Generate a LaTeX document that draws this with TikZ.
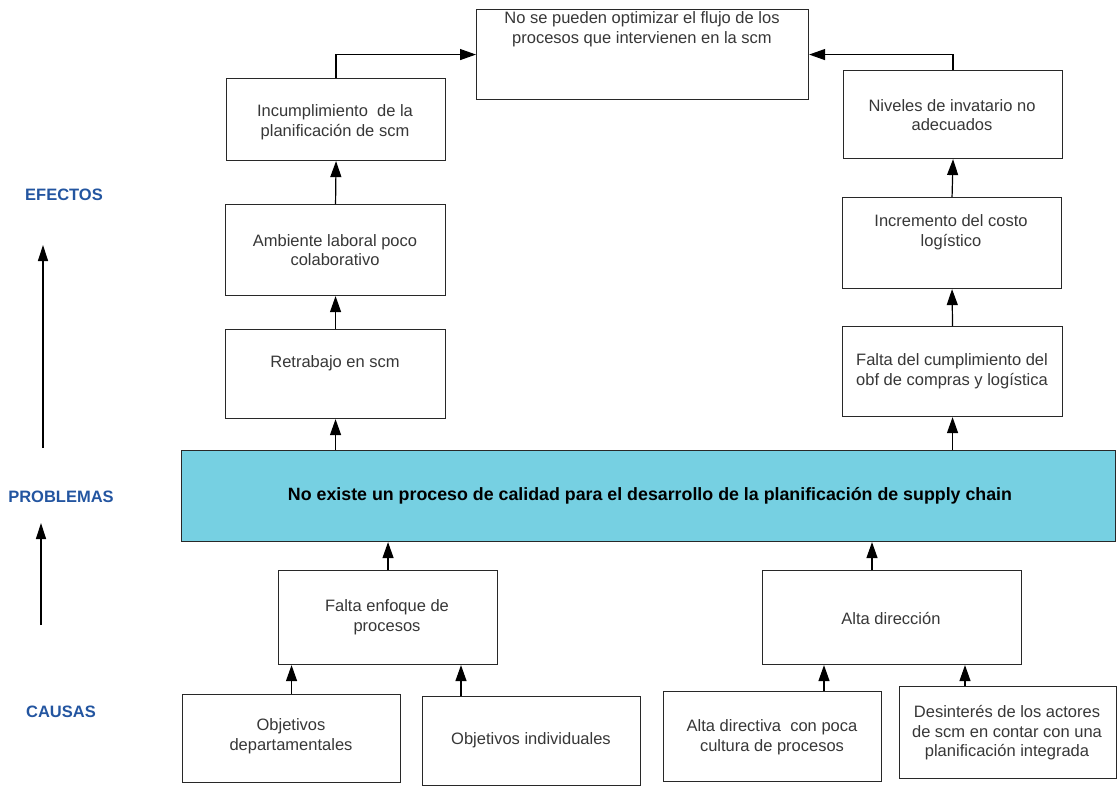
\documentclass[tikz,border=0pt]{standalone}
\usepackage{fontspec}
\setmainfont{Liberation Sans}
\usetikzlibrary{arrows.meta,calc}
\definecolor{bandcyan}{RGB}{118,208,226}
\definecolor{labelblue}{RGB}{35,85,160}
\definecolor{boxtext}{RGB}{55,55,55}
\definecolor{boxline}{RGB}{40,40,40}
\begin{document}
\begin{tikzpicture}[x=1pt,y=-1pt,
  box/.style={draw=boxline,line width=1.1pt,fill=white,inner sep=0pt,anchor=north west},
  band/.style={draw=boxline,line width=1.1pt,fill=bandcyan,inner sep=0pt,anchor=north west},
  txt/.style={text=boxtext,align=center,inner sep=0pt,font=\fontsize{16.5}{19.5}\selectfont},
  bandtxt/.style={text=black,inner sep=0pt,font=\fontsize{17.8}{20}\selectfont\bfseries},
  axislabel/.style={text=labelblue,inner sep=0pt,font=\fontsize{16.5}{18}\selectfont\bfseries},
  conn/.style={-{Triangle[length=16pt,width=11pt]},line width=1.2pt,black},
  axis/.style={-{Triangle[length=16pt,width=10pt]},line width=1.2pt,black}]
\useasboundingbox (0,0) rectangle (1117,785);

% effects
\node[box,minimum width=332pt,minimum height=90pt] (top) at (476,9) {};
\node[txt] (ttop) at (642,29) {No se pueden optimizar el flujo de los\\procesos que intervienen en la scm};
\node[box,minimum width=219pt,minimum height=82pt] (incum) at (226,78) {};
\node[txt] (tincum) at (335,122) {Incumplimiento\ \ de la\\planificación de scm};
\node[box,minimum width=219pt,minimum height=88pt] (niv) at (843,70) {};
\node[txt] (tniv) at (952,115) {Niveles de invatario no\\adecuados};
\node[box,minimum width=220pt,minimum height=91pt] (amb) at (225,204) {};
\node[txt] (tamb) at (335,250) {Ambiente laboral poco\\colaborativo};
\node[box,minimum width=220pt,minimum height=89pt] (retra) at (225,329) {};
\node[txt] (tretra) at (335,363) {Retrabajo en scm};
\node[box,minimum width=219pt,minimum height=91pt] (incr) at (842,197) {};
\node[txt] (tincr) at (951,232) {Incremento del costo\\logístico};
\node[box,minimum width=220pt,minimum height=90pt] (fcum) at (842,326) {};
\node[txt] (tfcum) at (952,371) {Falta del cumplimiento del\\obf de compras y logística};

% problem
\node[band,minimum width=934pt,minimum height=91pt] (prob) at (181,450) {};
\node[bandtxt] (tprob) at (650,496) {No existe un proceso de calidad para el desarrollo de la planificación de supply chain};

% causes
\node[box,minimum width=219pt,minimum height=94pt] (enf) at (278,570) {};
\node[txt] (tenf) at (387,617) {Falta enfoque de\\procesos};
\node[box,minimum width=259pt,minimum height=94pt] (adir) at (762,570) {};
\node[txt] (tadir) at (891,618) {Alta dirección};
\node[box,minimum width=218pt,minimum height=88pt] (odep) at (182,694) {};
\node[txt] (todep) at (291,736) {Objetivos\\departamentales};
\node[box,minimum width=218pt,minimum height=89pt] (oind) at (422,696) {};
\node[txt] (toind) at (531,740) {Objetivos individuales};
\node[box,minimum width=218pt,minimum height=90pt] (adiva) at (663,691) {};
\node[txt] (tadiva) at (772,737) {Alta directiva\ \ con poca\\cultura de procesos};
\node[box,minimum width=217pt,minimum height=92pt] (desi) at (899,686) {};
\node[txt] (tdesi) at (1007,733) {Desinterés de los actores\\de scm en contar con una\\planificación integrada};

% side labels
\node[axislabel] (lef) at (64,195) {EFECTOS};
\node[axislabel] (lpro) at (61,497) {PROBLEMAS};
\node[axislabel] (lcau) at (61,712) {CAUSAS};

% anchor columns for off-centre connectors
\coordinate (cIncum) at (336,0);
\coordinate (cNiv) at (953,0);
\coordinate (cAdir) at (872,0);
\coordinate (cOind) at (461,0);
\coordinate (cAdiva) at (824,0);
\coordinate (cDesi) at (965,0);
\coordinate (ax1s) at (43,448);
\coordinate (ax1e) at (43,245);
\coordinate (ax2s) at (41,625);
\coordinate (ax2e) at (41,523);

% effect chain
\draw[conn] (incum.north -| cIncum) |- (top.west);
\draw[conn] (niv.north -| cNiv) |- (top.east);
\draw[conn] (amb.north) -- (incum.south);
\draw[conn] (retra.north) -- (amb.south);
\draw[conn] (prob.north -| retra.south) -- (retra.south);
\draw[conn] (incr.north) -- (niv.south);
\draw[conn] (fcum.north) -- (incr.south);
\draw[conn] (prob.north -| fcum.south) -- (fcum.south);

% cause chain
\draw[conn] (enf.north) -- (prob.south -| enf.north);
\draw[conn] (adir.north -| cAdir) -- (prob.south -| cAdir);
\draw[conn] (odep.north) -- (enf.south -| odep.north);
\draw[conn] (oind.north -| cOind) -- (enf.south -| cOind);
\draw[conn] (adiva.north -| cAdiva) -- (adir.south -| cAdiva);
\draw[conn] (desi.north -| cDesi) -- (adir.south -| cDesi);

% side axis
\draw[axis] (ax1s) -- (ax1e);
\draw[axis] (ax2s) -- (ax2e);
\end{tikzpicture}
\end{document}
